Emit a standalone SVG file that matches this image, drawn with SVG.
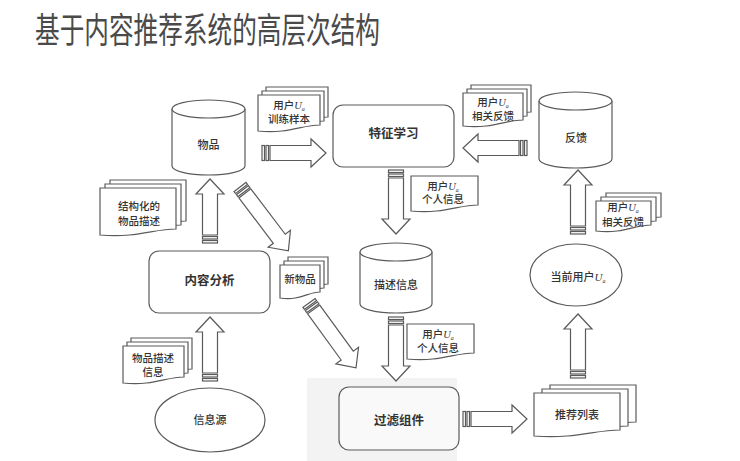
<svg xmlns="http://www.w3.org/2000/svg" width="740" height="461" viewBox="0 0 740 461">
<style>
.s{fill:#fff;stroke:#5a5a5a;stroke-width:1.2}
.t{font-family:"Noto Sans CJK SC","Noto Sans CJK JP",sans-serif;font-size:10.5px;fill:#333;text-anchor:middle;font-weight:500}
.tn{font-size:11px}
.tb{font-size:12.5px;font-weight:bold}
.u{font-family:"Liberation Serif",serif;font-style:italic;font-weight:normal}
.sub{font-family:"Liberation Serif",serif;font-style:italic;font-size:6px;font-weight:normal}
.title{font-family:"Noto Sans CJK SC",sans-serif;font-size:35px;fill:#4a4a4a;font-weight:400}
</style>
<defs>
<g id="ar" class="s">
<rect x="0" y="-7.5" width="2.5" height="15"/>
<rect x="4" y="-7.5" width="2.5" height="15"/>
<path d="M8,-7.5 H49 V-14 L64,0 L49,14 V7.5 H8 Z"/>
</g>
<g id="arL" class="s">
<rect x="0" y="-7.5" width="2.5" height="15"/>
<rect x="4" y="-7.5" width="2.5" height="15"/>
<path d="M8,-7.5 H65 V-14 L80,0 L65,14 V7.5 H8 Z"/>
</g>
<path id="docA" class="s" d="M0,0 H62 V30 C43.4,30 31,39 0,36 Z"/>
<path id="docB" class="s" d="M0,0 H60 V27 C42,27 30,36 0,33 Z"/>
<path id="docC" class="s" d="M0,0 H55 V24 C38.5,24 27.5,33 0,30 Z"/>
<path id="docD" class="s" d="M0,0 H76 V41 C53.2,41 38,50 0,47 Z"/>
<path id="docE" class="s" d="M0,0 H40 V27 C28,27 20,36 0,33 Z"/>
<path id="docF" class="s" d="M0,0 H61 V31 C42.7,31 30.5,40 0,37 Z"/>
<path id="docG" class="s" d="M0,0 H67 V29 C46.9,29 33.5,38 0,35 Z"/>
<path id="docI" class="s" d="M0,0 H86 V37 C60.2,37 43,46 0,43 Z"/>
</defs>
<rect width="740" height="461" fill="#fff"/>
<rect x="307" y="378" width="150" height="83" fill="#f3f3f3"/>
<text class="title" x="35" y="43" textLength="345" lengthAdjust="spacingAndGlyphs">基于内容推荐系统的高层次结构</text>

<g id="connectors">
<use href="#ar" transform="translate(262,153)"/>
<use href="#ar" transform="translate(527,148) rotate(180)"/>
<use href="#ar" transform="translate(396,170) rotate(90)"/>
<use href="#ar" transform="translate(396,317) rotate(90)"/>
<use href="#ar" transform="translate(210,243) rotate(-90)"/>
<use href="#ar" transform="translate(210,381) rotate(-90)"/>
<use href="#ar" transform="translate(578,234) rotate(-90)"/>
<use href="#ar" transform="translate(578,378) rotate(-90)"/>
<use href="#ar" transform="translate(463,419)"/>
<use href="#arL" transform="translate(240,187) rotate(52.8)"/>
<use href="#arL" transform="translate(309,303) rotate(54)"/>
</g>

<g id="wupin">
<path class="s" d="M172,109 V166 A36.5,9 0 0 0 245,166 V109"/>
<ellipse class="s" cx="208.5" cy="109" rx="36.5" ry="9"/>
<text class="t tn" x="208.5" y="149">物品</text>
</g>
<g id="tezheng">
<rect class="s" x="333" y="105" width="121" height="62" rx="10"/>
<text class="t tb" x="393.5" y="138">特征学习</text>
</g>
<g id="fankui">
<path class="s" d="M539,101 V159 A36.5,9 0 0 0 612,159 V101"/>
<ellipse class="s" cx="575.5" cy="101" rx="36.5" ry="9"/>
<text class="t tn" x="576" y="142">反馈</text>
</g>
<g id="miaoshu">
<path class="s" d="M360,252 V304 A36,9 0 0 0 432,304 V252"/>
<ellipse class="s" cx="396" cy="252" rx="36" ry="9"/>
<text class="t tn" x="396" y="289">描述信息</text>
</g>
<g id="neirong">
<rect class="s" x="149" y="251" width="121" height="62" rx="10"/>
<text class="t tb" x="209.5" y="284.5">内容分析</text>
</g>
<g id="guolv">
<rect class="s" x="339" y="387" width="120" height="63" rx="10" style="fill:#f9f9f9"/>
<text class="t tb" x="399" y="424.5">过滤组件</text>
</g>
<g id="xinxiyuan">
<ellipse class="s" cx="210" cy="420" rx="55" ry="32"/>
<text class="t tn" x="210" y="424">信息源</text>
</g>
<g id="dangqian">
<ellipse class="s" cx="576" cy="275" rx="46" ry="31"/>
<text class="t tn" x="578" y="281">当前用户<tspan class="u">U</tspan><tspan class="sub" baseline-shift="-2">a</tspan></text>
</g>

<g id="doc-xunlian">
<use href="#docA" x="266" y="87"/>
<use href="#docA" x="262" y="91"/>
<use href="#docA" x="258" y="95"/>
<text class="t" x="289" y="108.5">用户<tspan class="u">U</tspan><tspan class="sub" baseline-shift="-2">a</tspan></text>
<text class="t" x="289" y="122.5">训练样本</text>
</g>
<g id="doc-fankui1">
<use href="#docB" x="471" y="85"/>
<use href="#docB" x="467" y="89"/>
<use href="#docB" x="463" y="93"/>
<text class="t" x="493" y="105.5">用户<tspan class="u">U</tspan><tspan class="sub" baseline-shift="-2">a</tspan></text>
<text class="t" x="493" y="119.5">相关反馈</text>
</g>
<g id="doc-fankui2">
<use href="#docC" x="606" y="193"/>
<use href="#docC" x="601" y="197"/>
<use href="#docC" x="596" y="201"/>
<text class="t" x="623" y="211">用户<tspan class="u">U</tspan><tspan class="sub" baseline-shift="-2">a</tspan></text>
<text class="t" x="623" y="225.5">相关反馈</text>
</g>
<g id="doc-jiegou">
<use href="#docD" x="110" y="180"/>
<use href="#docD" x="105" y="184"/>
<use href="#docD" x="100" y="188"/>
<text class="t" x="139" y="210">结构化的</text>
<text class="t" x="139" y="224.5">物品描述</text>
</g>
<g id="doc-xinwupin">
<use href="#docE" x="288" y="257"/>
<use href="#docE" x="284" y="261"/>
<use href="#docE" x="280" y="265"/>
<text class="t" x="300" y="283">新物品</text>
</g>
<g id="doc-miaoshuxinxi">
<use href="#docF" x="131" y="338"/>
<use href="#docF" x="127" y="342"/>
<use href="#docF" x="123" y="346"/>
<text class="t" x="153" y="361.5">物品描述</text>
<text class="t" x="153" y="375.5">信息</text>
</g>
<g id="doc-geren1">
<use href="#docG" x="411" y="176"/>
<text class="t" x="443" y="189.5">用户<tspan class="u">U</tspan><tspan class="sub" baseline-shift="-2">a</tspan></text>
<text class="t" x="443" y="203">个人信息</text>
</g>
<g id="doc-geren2">
<use href="#docG" x="407" y="324"/>
<text class="t" x="438" y="338">用户<tspan class="u">U</tspan><tspan class="sub" baseline-shift="-2">a</tspan></text>
<text class="t" x="438" y="351.5">个人信息</text>
</g>
<g id="doc-tuijian">
<use href="#docI" x="550" y="385"/>
<use href="#docI" x="542" y="389"/>
<use href="#docI" x="534" y="393"/>
<text class="t tn" x="577" y="419">推荐列表</text>
</g>
</svg>
